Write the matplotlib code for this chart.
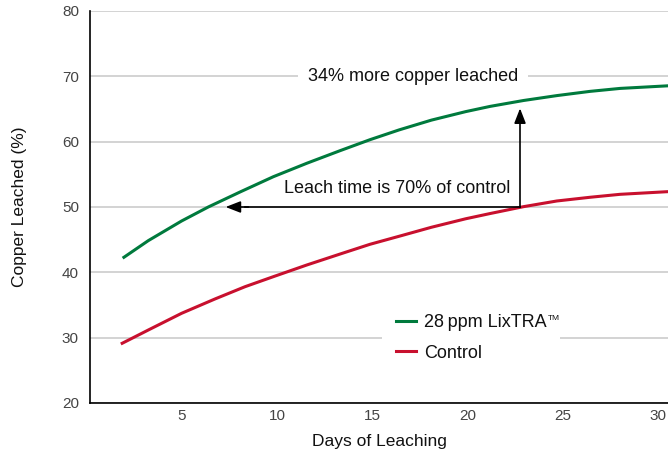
import matplotlib
matplotlib.use("Agg")
import matplotlib.pyplot as plt

plt.rcParams['font.family'] = ['Liberation Sans', 'DejaVu Sans']

green_days = [1.95, 3.23, 4.98, 6.38, 8.05, 9.8, 11.55, 13.3, 14.87, 16.4, 18.1, 19.9,
              21.18, 22.93, 24.68, 26.43, 28.0, 30.52]
lixtra = [42.3, 44.85, 47.86, 50.0, 52.3, 54.64, 56.69, 58.62, 60.3, 61.8, 63.3, 64.6,
          65.4, 66.3, 67.05, 67.7, 68.15, 68.55]
red_days = [1.86, 3.23, 4.98, 6.73, 8.31, 9.8, 11.55, 13.3, 14.87, 16.5, 18.1, 19.9,
            21.18, 22.93, 24.68, 26.43, 28.0, 30.52]
control = [29.14, 31.17, 33.73, 35.92, 37.8, 39.34, 41.12, 42.8, 44.29, 45.6, 46.9, 48.2,
           49.0, 50.05, 50.92, 51.49, 51.94, 52.35]

series_labels = ['28\u2009ppm LixTRA', 'Control']
trademark = 'TM'
colors = ['#007a3d', '#c8102e']
yticks = [20, 30, 40, 50, 60, 70, 80]
xticks = [5, 10, 15, 20, 25, 30]

arrow_x = 22.75
arrow_y_base = 50
arrow_y_tip = 65.1
arrow_x_tip = 7.29

fig = plt.figure(figsize=(6.68, 4.57), dpi=100)
ax = fig.add_axes([90/668, 1-403/457, 1-90/668, (403-11)/457])

ax.set_xlim(0.17, 30.52)
ax.set_ylim(20, 80)
ax.set_yticks(yticks)
ax.set_xticks(xticks)
ax.grid(axis='y', color='#cccccc', lw=1.2, zorder=0)
ax.set_axisbelow(True)
for s in ['top', 'right']:
    ax.spines[s].set_visible(False)
for s in ['left', 'bottom']:
    ax.spines[s].set_color('black')
    ax.spines[s].set_linewidth(1.2)
ax.tick_params(length=0, labelsize=11, labelcolor='#444444')
ax.tick_params(axis='y', pad=8)
ax.tick_params(axis='x', pad=4)

l1, = ax.plot(green_days, lixtra, color=colors[0], lw=2.2, label=series_labels[0], zorder=3)
l2, = ax.plot(red_days, control, color=colors[1], lw=2.2, label=series_labels[1], zorder=3)

ax.set_xlabel('Days of Leaching', fontsize=12.5, color='#111111', labelpad=8)
ax.set_ylabel('Copper Leached (%)', fontsize=12.5, color='#111111', labelpad=25)

# arrows
ax.plot([arrow_x, arrow_x], [arrow_y_base, arrow_y_tip - 1.5], color='black', lw=1.2, zorder=4)
ax.annotate('', xy=(arrow_x, arrow_y_tip), xytext=(arrow_x, arrow_y_tip - 2.0),
            arrowprops=dict(arrowstyle='-|>,head_length=0.9,head_width=0.35', color='black', lw=1.2,
                            shrinkA=0, shrinkB=0), zorder=4)
ax.plot([arrow_x, arrow_x_tip + 1.0], [arrow_y_base, arrow_y_base], color='black', lw=1.2, zorder=4)
ax.annotate('', xy=(arrow_x_tip, arrow_y_base), xytext=(arrow_x_tip + 1.2, arrow_y_base),
            arrowprops=dict(arrowstyle='-|>,head_length=0.9,head_width=0.35', color='black', lw=1.2,
                            shrinkA=0, shrinkB=0), zorder=4)

ax.text(16.32, 52.76, 'Leach time is 70% of control', fontsize=13, color='#111111',
        ha='center', va='center', zorder=5)
ax.text(17.13, 70, '34% more copper leached', fontsize=13, color='#111111',
        ha='center', va='center', zorder=5,
        bbox=dict(facecolor='white', edgecolor='none', pad=7))

leg = ax.legend(handles=[l1, l2], loc='center left', bbox_to_anchor=(0.506, 0.166),
                borderaxespad=0, frameon=True, fontsize=13, handlelength=1.1, handletextpad=0.45,
                labelspacing=0.75, borderpad=0.75, fancybox=False)
leg.get_frame().set_facecolor('white')
leg.get_frame().set_edgecolor('none')
leg.get_frame().set_alpha(1)
for t in leg.get_texts():
    t.set_color('#111111')

# small trademark superscript after the first legend label
fig.canvas.draw()
bb = leg.get_texts()[0].get_window_extent(fig.canvas.get_renderer())
fig.text((bb.x1 + 1) / fig.bbox.width, (bb.y1 - 1) / fig.bbox.height, trademark,
         fontsize=6, color='#111111', ha='left', va='top', zorder=10)

fig.savefig('out.png', dpi=100)
